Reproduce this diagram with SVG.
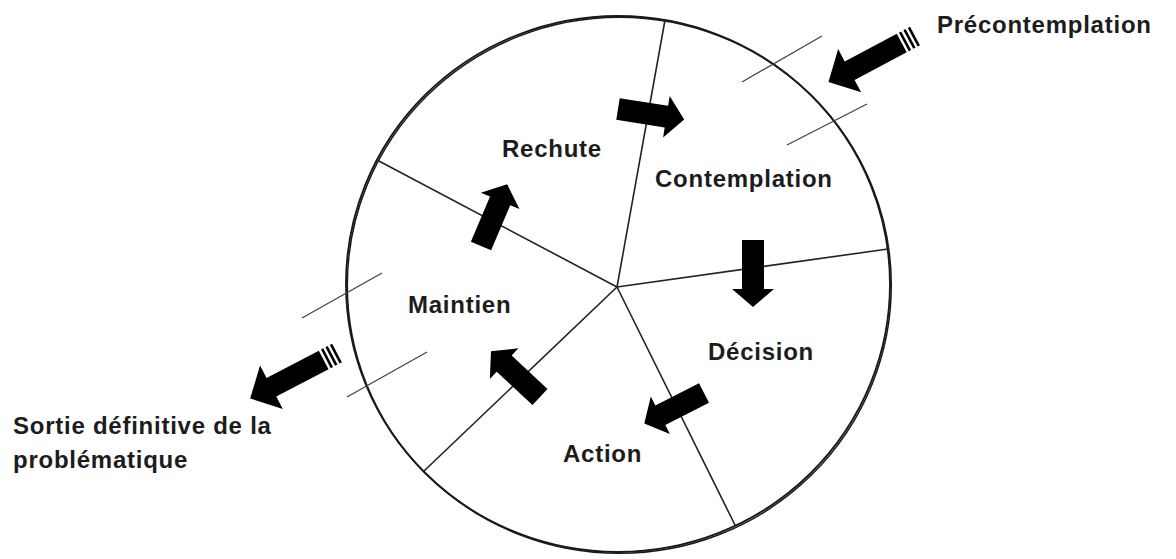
<svg xmlns="http://www.w3.org/2000/svg" width="1176" height="559" viewBox="0 0 1176 559">
  <style>
    .lbl { font-family: "Liberation Sans", Arial, sans-serif; font-weight: bold; font-size: 24px; letter-spacing: 0.75px; fill: #1c1c1c; }
    .rim { fill: none; stroke: #1a1a1a; stroke-width: 1.9; }
    .rim2 { fill: none; stroke: #1a1a1a; stroke-width: 1.5; }
    .spoke { stroke: #222; stroke-width: 1.6; fill: none; stroke-linecap: round; }
    .tick { stroke: #444; stroke-width: 1.3; fill: none; }
    .arr { fill: #000; }
  </style>
  <defs>
    <path id="sa" d="M0,-11 L49,-11 L49,-21 L67,0 L49,21 L49,11 L0,11 Z"/>
    <g id="ba">
      <path d="M15,-10.5 L74,-10.5 L74,-24.5 L98,0 L74,24.5 L74,10.5 L15,10.5 Z"/>
      <rect x="0" y="-10.5" width="2.6" height="21"/>
      <rect x="5" y="-10.5" width="2.6" height="21"/>
      <rect x="10" y="-10.5" width="2.6" height="21"/>
    </g>
  </defs>
  <rect width="1176" height="559" fill="#fff"/>

  <g id="wheel">
    <ellipse class="rim" cx="618" cy="284" rx="272" ry="268"/>
    <ellipse class="rim2" cx="619.3" cy="285.3" rx="272" ry="268"/>
  </g>

  <g id="connectors">
    <line class="spoke" x1="617" y1="287" x2="665" y2="20"/>
    <line class="spoke" x1="617" y1="287" x2="888" y2="249"/>
    <line class="spoke" x1="617" y1="287" x2="735" y2="525"/>
    <line class="spoke" x1="617" y1="287" x2="424" y2="471"/>
    <line class="spoke" x1="617" y1="287" x2="377" y2="160"/>
    <line class="tick" x1="742" y1="82" x2="822" y2="36"/>
    <line class="tick" x1="787" y1="145" x2="867" y2="104"/>
    <line class="tick" x1="302" y1="318" x2="382" y2="273"/>
    <line class="tick" x1="347" y1="397" x2="427" y2="352"/>
    <use href="#sa" class="arr" transform="translate(618,109) rotate(9)"/>
    <use href="#sa" class="arr" transform="translate(753,240) rotate(90)"/>
    <use href="#sa" class="arr" transform="translate(704,393) rotate(153)"/>
    <use href="#sa" class="arr" transform="translate(540,397) rotate(-137)"/>
    <use href="#sa" class="arr" transform="translate(481,246) rotate(-67)"/>
    <use href="#ba" class="arr" transform="translate(915,36) rotate(152)"/>
    <use href="#ba" class="arr" transform="translate(337,353) rotate(152.4)"/>
  </g>

  <g id="precontemplation"><text class="lbl" x="937" y="33">Précontemplation</text></g>
  <g id="contemplation"><text class="lbl" x="655" y="187">Contemplation</text></g>
  <g id="rechute"><text class="lbl" x="502" y="157">Rechute</text></g>
  <g id="maintien"><text class="lbl" x="408" y="313">Maintien</text></g>
  <g id="decision"><text class="lbl" x="708" y="360">Décision</text></g>
  <g id="action"><text class="lbl" x="563" y="462">Action</text></g>
  <g id="sortie">
    <text class="lbl" x="13" y="434">Sortie définitive de la</text>
    <text class="lbl" x="13" y="468">problématique</text>
  </g>
</svg>
